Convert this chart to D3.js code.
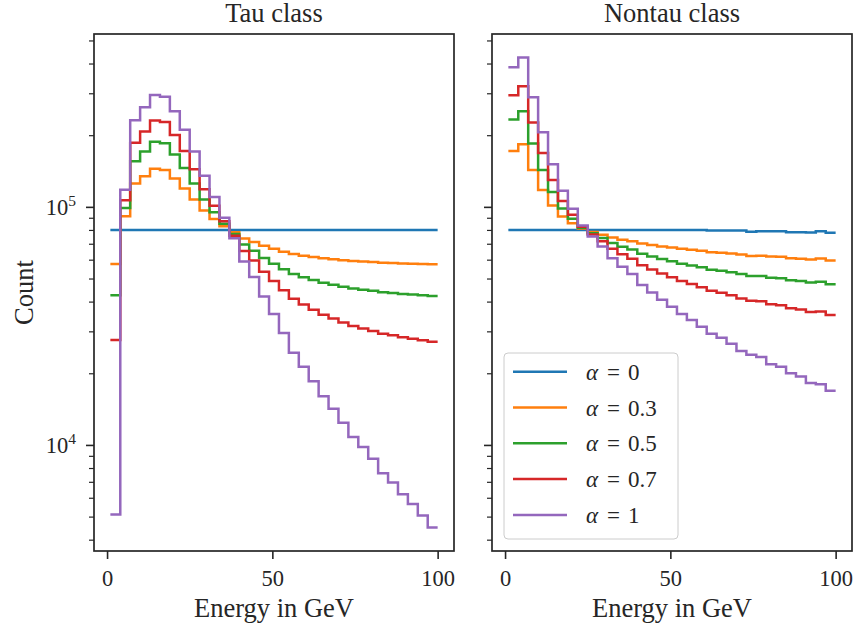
<!DOCTYPE html>
<html>
<head>
<meta charset="utf-8">
<script src="https://cdn.jsdelivr.net/npm/d3@7"></script>
<style>
  body { margin: 0; background: #fff; }
  svg { display: block; font-family: "Liberation Serif", "DejaVu Serif", serif; }
</style>
</head>
<body>
<div id="chart"></div>
<script>
// bin edges in GeV (33 bins of width 3)
const edges = [1, 4, 7, 10, 13, 16, 19, 22, 25, 28, 31, 34, 37, 40, 43, 46, 49, 52, 55, 58,
  61, 64, 67, 70, 73, 76, 79, 82, 85, 88, 91, 94, 97, 100];

const alphas = ["0", "0.3", "0.5", "0.7", "1"];
const colors = ["#1f77b4", "#ff7f0e", "#2ca02c", "#d62728", "#9467bd"];
const xTicks = [0, 50, 100];
const yMajor = [1e4, 1e5];

// Tau class
const tauA0 = [80000, 80000, 80000, 80000, 80000, 80000, 80000, 80000, 80000, 80000, 80000,
  80000, 80000, 80000, 80000, 80000, 80000, 80000, 80000, 80000, 80000, 80000,
  80000, 80000, 80000, 80000, 80000, 80000, 80000, 80000, 80000, 80000, 80000];
const tauA03 = [57530, 91400, 125300, 134600, 144500, 143000, 131600, 119300, 107300, 96500, 89000,
  83000, 78140, 73700, 71210, 68600, 66650, 64850, 63320, 62390, 61550, 60800,
  60260, 59720, 59240, 58940, 58625, 58280, 58085, 57860, 57695, 57515, 57350];
const tauA05 = [42550, 99000, 155500, 171000, 187500, 185000, 166000, 145500, 125500, 107500, 95000,
  85000, 76900, 69500, 65350, 61000, 57750, 54750, 52200, 50650, 49250, 48000,
  47100, 46200, 45400, 44900, 44375, 43800, 43475, 43100, 42825, 42525, 42250];
const tauA07 = [27570, 106600, 185700, 207400, 230500, 227000, 200400, 171700, 143700, 118500, 101000,
  87000, 75660, 65300, 59490, 53400, 48850, 44650, 41080, 38910, 36950, 35200,
  33940, 32680, 31560, 30860, 30125, 29320, 28865, 28340, 27955, 27535, 27150];
const tauA1 = [5100, 118000, 231000, 262000, 295000, 290000, 252000, 211000, 171000, 135000, 110000,
  90000, 73800, 59000, 50700, 42000, 35500, 29500, 24400, 21300, 18500, 16000,
  14200, 12400, 10800, 9800, 8750, 7600, 6950, 6200, 5650, 5050, 4500];

// Nontau class
const nontauA0 = [80000, 80000, 80000, 80000, 80000, 80000, 80000, 80000, 80000, 80000, 80000,
  80000, 80000, 80000, 80000, 80000, 80000, 80000, 80000, 80000, 79560, 79560,
  79560, 79560, 78530, 79050, 79050, 79050, 78270, 78270, 78000, 79050, 77770];
const nontauA03 = [171800, 183200, 142700, 117800, 101300, 91100, 85430, 81080, 78500, 76430, 74270,
  72830, 71690, 70100, 69110, 68210, 67430, 66650, 66050, 65420, 64480, 64150,
  63670, 63130, 62140, 62355, 61875, 61725, 60790, 60610, 60060, 60735, 59510];
const nontauA05 = [233000, 252000, 184500, 143000, 115500, 98500, 89050, 81800, 77500, 74050, 70450,
  68050, 66150, 63500, 61850, 60350, 59050, 57750, 56750, 55700, 54430, 53880,
  53080, 52180, 51215, 51225, 50425, 50175, 49135, 48835, 48100, 48525, 47335];
const nontauA07 = [294200, 320800, 226300, 168200, 129700, 105900, 92670, 82520, 76500, 71670, 66630,
  63270, 60610, 56900, 54590, 52490, 50670, 48850, 47450, 45980, 44380, 43610,
  42490, 41230, 40290, 40095, 38975, 38625, 37480, 37060, 36140, 36315, 35160];
const nontauA1 = [386000, 424000, 289000, 206000, 151000, 117000, 98100, 83600, 75000, 68100, 60900,
  56100, 52300, 47000, 43700, 40700, 38100, 35500, 33500, 31400, 29300, 28200,
  26600, 24800, 23900, 23400, 21800, 21300, 20000, 19400, 18200, 18000, 16900];

const tauSeries = [tauA0, tauA03, tauA05, tauA07, tauA1];
const nontauSeries = [nontauA0, nontauA03, nontauA05, nontauA07, nontauA1];

const width = 857, height = 632;
const margin = { top: 34, bottom: 81 };
const innerHeight = height - margin.top - margin.bottom;
const panelWidth = 360;
const ink = "#262626";

const panels = [
  { title: "Tau class", left: 94, series: tauSeries, yLabels: true },
  { title: "Nontau class", left: 492, series: nontauSeries, yLabels: false }
];

const svg = d3.select("#chart")
  .append("svg")
  .attr("width", width)
  .attr("height", height);

// shared scales (matplotlib-like 5% margins)
const xMin = d3.min(edges), xMax = d3.max(edges);
const xPad = (xMax - xMin) * 0.05;
const xScale = d3.scaleLinear()
  .domain([xMin - xPad, xMax + xPad])
  .range([0, panelWidth]);

const allVals = tauSeries.concat(nontauSeries).flat();
const lMin = Math.log10(d3.min(allVals)), lMax = Math.log10(d3.max(allVals));
const lPad = (lMax - lMin) * 0.05;
const yScale = d3.scaleLog()
  .domain([Math.pow(10, lMin - lPad), Math.pow(10, lMax + lPad)])
  .range([innerHeight, 0]);

const minorTicks = yScale.ticks().filter(v => Math.abs(Math.log10(v) - Math.round(Math.log10(v))) > 1e-9);

const stepLine = d3.line()
  .x(d => xScale(d[0]))
  .y(d => yScale(d[1]))
  .curve(d3.curveStepAfter);

panels.forEach(p => {
  const g = svg.append("g")
    .attr("transform", `translate(${p.left}, ${margin.top})`);

  // step histograms
  p.series.forEach((vals, i) => {
    const pts = vals.map((v, j) => [edges[j], v]);
    pts.push([edges[edges.length - 1], vals[vals.length - 1]]);
    g.append("path")
      .attr("d", stepLine(pts))
      .attr("fill", "none")
      .attr("stroke", colors[i])
      .attr("stroke-width", 2.5);
  });

  // x axis
  const xAxis = g.append("g")
    .attr("transform", `translate(0, ${innerHeight})`)
    .call(d3.axisBottom(xScale).tickValues(xTicks).tickSize(8).tickFormat(d3.format("d")));
  xAxis.select(".domain").remove();
  xAxis.selectAll("line").attr("stroke", ink).attr("stroke-width", 1.6);
  xAxis.selectAll("text")
    .attr("y", 35).attr("dy", 0)
    .attr("fill", ink)
    .style("font-family", "Liberation Serif, serif")
    .style("font-size", "22.5px");

  // y axis minor
  const yMinor = g.append("g")
    .call(d3.axisLeft(yScale).tickValues(minorTicks).tickSize(5).tickFormat(""));
  yMinor.select(".domain").remove();
  yMinor.selectAll("text").remove();
  yMinor.selectAll("line").attr("stroke", ink).attr("stroke-width", 1.2);

  // y axis major
  const yAx = g.append("g")
    .call(d3.axisLeft(yScale).tickValues(yMajor).tickSize(8).tickFormat(""));
  yAx.select(".domain").remove();
  yAx.selectAll("text").remove();
  yAx.selectAll("line").attr("stroke", ink).attr("stroke-width", 1.6);

  if (p.yLabels) {
    yAx.selectAll(".tick").append("text")
      .attr("x", -18)
      .attr("y", 8)
      .attr("text-anchor", "end")
      .attr("fill", ink)
      .style("font-family", "Liberation Serif, serif")
      .style("font-size", "22.5px")
      .each(function (d) {
        const t = d3.select(this);
        t.append("tspan").text("10");
        t.append("tspan").attr("dy", -9).style("font-size", "15.5px").text(Math.round(Math.log10(d)));
      });
  }

  // frame
  g.append("rect")
    .attr("width", panelWidth)
    .attr("height", innerHeight)
    .attr("fill", "none")
    .attr("stroke", ink)
    .attr("stroke-width", 1.7);

  // title
  svg.append("text")
    .attr("x", p.left + panelWidth / 2)
    .attr("y", 22)
    .attr("text-anchor", "middle")
    .attr("fill", ink)
    .style("font-size", "26.5px")
    .text(p.title);

  // x label
  svg.append("text")
    .attr("x", p.left + panelWidth / 2)
    .attr("y", 617)
    .attr("text-anchor", "middle")
    .attr("fill", ink)
    .style("font-size", "26.5px")
    .text("Energy in GeV");
});

// y label
svg.append("text")
  .attr("transform", `translate(33, ${margin.top + innerHeight / 2}) rotate(-90)`)
  .attr("text-anchor", "middle")
  .attr("fill", ink)
  .style("font-size", "26.5px")
  .text("Count");

// legend (right panel)
const legend = svg.append("g")
  .attr("transform", "translate(504, 353)");

legend.append("rect")
  .attr("width", 174)
  .attr("height", 186)
  .attr("rx", 4)
  .attr("fill", "#fff")
  .attr("fill-opacity", 0.8)
  .attr("stroke", "#cccccc")
  .attr("stroke-width", 1);

alphas.forEach((a, i) => {
  const row = legend.append("g")
    .attr("transform", `translate(0, ${18.7 + i * 35.8})`);

  row.append("line")
    .attr("x1", 9).attr("x2", 63)
    .attr("stroke", colors[i])
    .attr("stroke-width", 2.5);

  const t = row.append("text")
    .attr("x", 82)
    .attr("y", 8)
    .attr("fill", ink)
    .style("font-size", "23px");
  t.append("tspan").style("font-style", "italic").text("α");
  t.append("tspan").attr("dx", 9).text("=");
  t.append("tspan").attr("dx", 8).text(a);
});
</script>
</body>
</html>
